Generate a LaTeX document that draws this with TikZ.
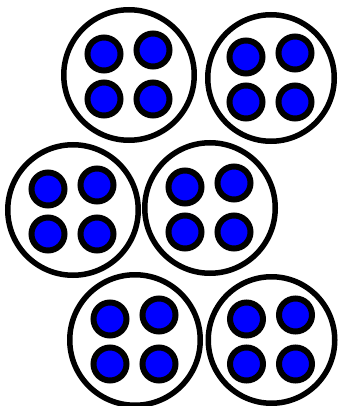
\documentclass[tikz,border=0pt]{standalone}
\usetikzlibrary{positioning}
\definecolor{dotblue}{RGB}{0, 0, 255}
\tikzset{
  cell/.style={circle, draw=black, line width=5.5pt, fill=white, inner sep=0pt},
  dot/.style={circle, draw=black, line width=6pt, fill=dotblue, inner sep=0pt, minimum size=33pt}
}
\begin{document}
\begin{tikzpicture}[x=1pt, y=-1pt]
  \useasboundingbox (0,0) rectangle (340,406);
  % Cells with four dots each
  \foreach \cx/\cy/\d/\n in {129/75/130.5/1, 271/78/126.5/2, 73/210/130.5/3,
                             210/208/130.5/4, 135/340/130.5/5, 271.5/340/126.5/6} {
    \node[cell, minimum size=\d pt] (c\n) at (\cx,\cy) {};
    \foreach \dx/\dy/\m in {-25/-21/a, 24/-25/b, -25/24/c, 24/24/d}
      \node[dot] (c\n\m) at (\cx+\dx,\cy+\dy) {};
  }
\end{tikzpicture}
\end{document}
